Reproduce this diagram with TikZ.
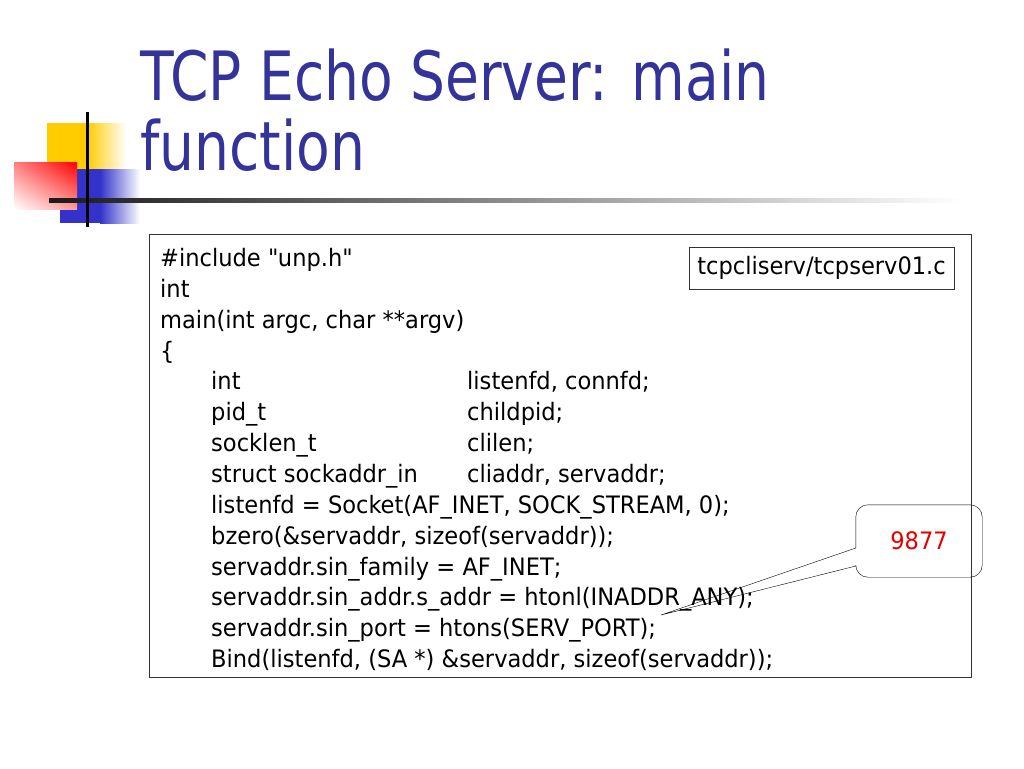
\documentclass[tikz,border=0pt]{standalone}
\usepackage{fontspec}
\setmainfont{DejaVu Sans Condensed}
\newfontfamily\codefont{DejaVu Sans Condensed}[FakeStretch=1.045]
\newfontfamily\titlefont{DejaVu Sans Condensed}[FakeStretch=0.9]
\usepackage{xcolor}
\usetikzlibrary{shadings}

\definecolor{titleblue}{RGB}{51,51,153}
\definecolor{logoyellow}{RGB}{255,204,0}
\definecolor{logoblue}{RGB}{51,51,204}
\definecolor{numred}{RGB}{230,0,0}

\begin{document}
\begin{tikzpicture}[x=1pt, y=-1pt,
	title/.style={anchor=base west, inner sep=0pt, text=titleblue, font=\titlefont\fontsize{68}{68}\selectfont},
	code/.style={anchor=base west, inner sep=0pt, font=\codefont\fontsize{24}{24}\selectfont},
	frame/.style={draw=black!80, line width=1pt}]
	\useasboundingbox (0,0) rectangle (1024,768);
	% Logo:
	\fill[logoyellow] (47, 123) rectangle (87, 170);
	\shade[left color=logoyellow, right color=white] (87, 123) rectangle (126, 170);
	\fill[logoblue] (60, 169) rectangle (100, 223);
	\shade[left color=logoblue, right color=white] (100, 169) rectangle (140, 223);
	\shade[upper right=red, upper left=red!50, lower right=red!40, lower left=white] (14, 162) rectangle (77, 209);
	\shade[left color=black!90, right color=white] (49, 198) rectangle (962, 202);
	\draw[line width=3pt] (87, 112) -- (87, 227);
	% Title:
	\node[title](T1) at (140, 100){TCP Echo Server: main};
	\node[title](T2) at (140, 170){function};
	% Code box:
	\draw[frame] (149, 234) rectangle (971, 677);
	\node[frame, minimum width=265, minimum height=42, inner sep=0pt, font=\codefont\fontsize{24}{24}\selectfont](F) at (821.5, 268){tcpcliserv/tcpserv01.c};
	\node[code](L1) at (160, 266){\#include \textquotedbl unp.h\textquotedbl};
	\node[code](L2) at (160, 297){int};
	\node[code](L3) at (160, 328){main(int argc, char **argv)};
	\node[code](L4) at (160, 359){\{};
	\node[code](L5) at (211, 389){int};
	\node[code](L5b) at (467, 389){listenfd, connfd;};
	\node[code](L6) at (211, 420){pid\_t};
	\node[code](L6b) at (467, 420){childpid;};
	\node[code](L7) at (211, 451){socklen\_t};
	\node[code](L7b) at (467, 451){clilen;};
	\node[code](L8) at (211, 482){struct sockaddr\_in};
	\node[code](L8b) at (467, 482){cliaddr, servaddr;};
	\node[code](L9) at (211, 513){listenfd = Socket(AF\_INET, SOCK\_STREAM, 0);};
	\node[code](L10) at (211, 544){bzero(\&servaddr, sizeof(servaddr));};
	\node[code](L11) at (211, 575){servaddr.sin\_family = AF\_INET;};
	\node[code](L12) at (211, 605){servaddr.sin\_addr.s\_addr = htonl(INADDR\_ANY);};
	\node[code](L13) at (211, 636){servaddr.sin\_port = htons(SERV\_PORT);};
	\node[code](L14) at (211, 667){Bind(listenfd, (SA *) \&servaddr, sizeof(servaddr));};
	% Callout:
	\node[minimum width=126, minimum height=72, inner sep=0pt, text=numred, font=\codefont\fontsize{24}{24}\selectfont](N) at (919, 541){9877};
	\coordinate (tip) at (661, 615);
	\draw (tip) -- ([yshift=-25pt]N.west) [rounded corners=12pt] -- (N.south west) -- (N.south east) -- (N.north east) -- (N.north west) [sharp corners] -- ([yshift=-7pt]N.west) -- cycle;
\end{tikzpicture}
\end{document}
